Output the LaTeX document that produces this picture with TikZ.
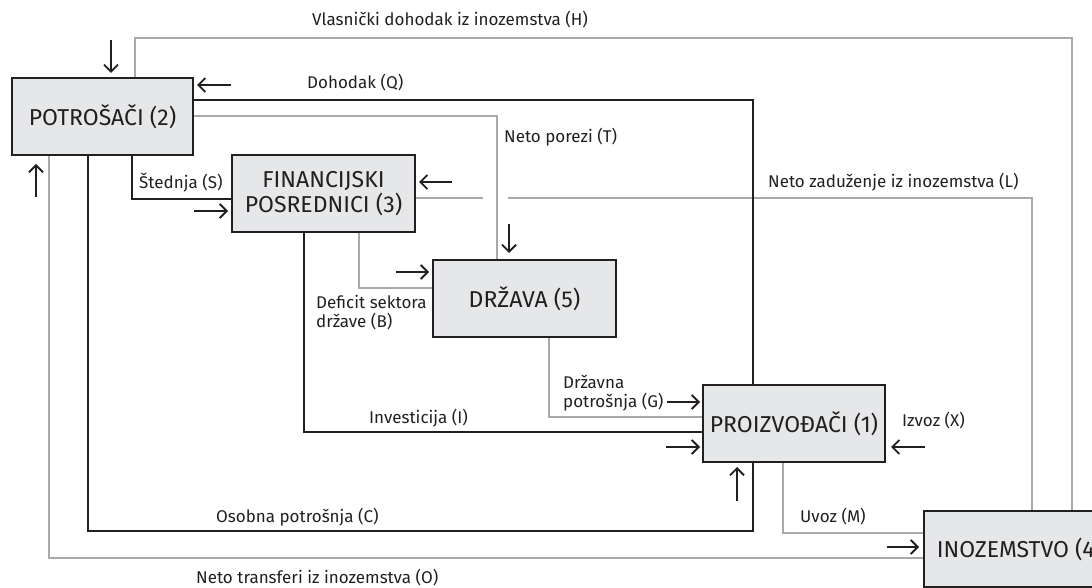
\documentclass[tikz,border=0pt]{standalone}
\usepackage{fontspec}
\setmainfont{Fira Sans}
\usetikzlibrary{arrows.meta,calc}
\definecolor{ink}{HTML}{231F20}
\definecolor{gline}{HTML}{A7A9AC}
\definecolor{boxfill}{HTML}{E6E7E8}
\tikzset{
  sector/.style={draw=ink,fill=boxfill,line width=1.8pt,inner sep=0pt,align=center,
    text=ink,font=\fontsize{23}{25.5}\selectfont},
  blk/.style={draw=ink,line width=2.5pt},
  gry/.style={draw=gline,line width=2.6pt},
  bridge/.style={draw=white,line width=5pt},
  flow/.style={draw=ink,line width=1.8pt,-{Straight Barb[length=7pt,width=14pt,line width=1.8pt]}},
  lbl/.style={anchor=west,inner sep=0pt,text=ink,align=left,font=\fontsize{17}{19}\selectfont},
}
\begin{document}
\begin{tikzpicture}[x=1pt,y=-1pt]
\useasboundingbox (0,0) rectangle (1092,588);
\clip (0,0) rectangle (1092,588);
% corner coordinates
\coordinate (h1) at (135,38);  \coordinate (h2) at (1072,38);
\coordinate (l1) at (1032,198);
\coordinate (q1) at (753,100);
\coordinate (t1) at (497,116);
\coordinate (s1) at (132,199);
\coordinate (c1) at (88,531);  \coordinate (c2) at (753,531);
\coordinate (o1) at (49,558);
\coordinate (i1) at (304,432);
\coordinate (b1) at (359,288);
\coordinate (g1) at (549,417);
\coordinate (m1) at (783,533);
\coordinate (lgapA) at (483,198); \coordinate (lgapB) at (508,198);
% sector outlines (named, used as connector ends)
\path node[minimum width=181pt,minimum height=77pt,inner sep=0pt] (pot) at (102.5,116.5) {}
  node[minimum width=183pt,minimum height=77pt,inner sep=0pt] (fin) at (323.5,193.5) {}
  node[minimum width=183pt,minimum height=77pt,inner sep=0pt] (drz) at (524.5,298.5) {}
  node[minimum width=182pt,minimum height=77pt,inner sep=0pt] (pro) at (794,423.5) {}
  node[minimum width=191pt,minimum height=76pt,inner sep=0pt] (ino) at (1019.5,549) {};
% gray connectors
\draw[gry] (pot.north -| h1) -- (h1) -- (h2) -- (ino.north -| h2);
\draw[gry] (ino.north -| l1) -- (l1) -- (fin.east |- l1);
\draw[bridge] (lgapA) -- (lgapB);
\draw[gry] (pot.east |- t1) -- (t1) -- (drz.north -| t1);
\draw[gry] (pot.south -| o1) -- (o1) -- (ino.west |- o1);
\draw[gry] (fin.south -| b1) -- (b1) -- (drz.west |- b1);
\draw[gry] (drz.south -| g1) -- (g1) -- (pro.west |- g1);
\draw[gry] (pro.south -| m1) -- (m1) -- (ino.west |- m1);
% black connectors
\draw[blk] (pot.east |- q1) -- (q1) -- (pro.north -| q1);
\draw[blk] (pot.south -| s1) -- (s1) -- (fin.west |- s1);
\draw[blk] (pot.south -| c1) -- (c1) -- (c2) -- (pro.south -| c2);
\draw[blk] (fin.south -| i1) -- (i1) -- (pro.west |- i1);
% visible sectors on top
\node[sector,minimum width=181pt,minimum height=77pt] (potB) at (pot) {POTROŠAČI (2)};
\node[sector,minimum width=183pt,minimum height=77pt] (finB) at (fin) {FINANCIJSKI\\POSREDNICI (3)};
\node[sector,minimum width=183pt,minimum height=77pt] (drzB) at (drz) {DRŽAVA (5)};
\node[sector,minimum width=182pt,minimum height=77pt] (proB) at (pro) {PROIZVOĐAČI (1)};
\node[sector,minimum width=191pt,minimum height=76pt] (inoB) at (ino) {INOZEMSTVO (4)};
% direction arrows
\draw[flow] (111,40) -- (111,73);
\draw[flow] (231,85) -- (197,85);
\draw[flow] (36,197) -- (36,164);
\draw[flow] (194,211) -- (228,211);
\draw[flow] (452,182) -- (419,182);
\draw[flow] (509,224) -- (509,253);
\draw[flow] (396,272) -- (429,272);
\draw[flow] (667,402) -- (700,402);
\draw[flow] (666,447) -- (700,447);
\draw[flow] (737,501) -- (737,467);
\draw[flow] (925,447) -- (891,447);
\draw[flow] (887,547) -- (919,547);
% labels
\node[lbl] (lh) at (312,20) {Vlasnički dohodak iz inozemstva (H)};
\node[lbl] (lq) at (307,83) {Dohodak (Q)};
\node[lbl] (lt) at (504,137) {Neto porezi (T)};
\node[lbl] (ls) at (139,183) {Štednja (S)};
\node[lbl] (ll) at (768,182) {Neto zaduženje iz inozemstva (L)};
\node[lbl] (lb) at (316,313) {Deficit sektora\\države (B)};
\node[lbl] (lg) at (563,393) {Državna\\potrošnja (G)};
\node[lbl] (li) at (369,418) {Investicija (I)};
\node[lbl] (lx) at (902,421) {Izvoz (X)};
\node[lbl] (lc) at (216,517) {Osobna potrošnja (C)};
\node[lbl] (lm) at (800,517) {Uvoz (M)};
\node[lbl] (lo) at (196,578) {Neto transferi iz inozemstva (O)};
\end{tikzpicture}
\end{document}
